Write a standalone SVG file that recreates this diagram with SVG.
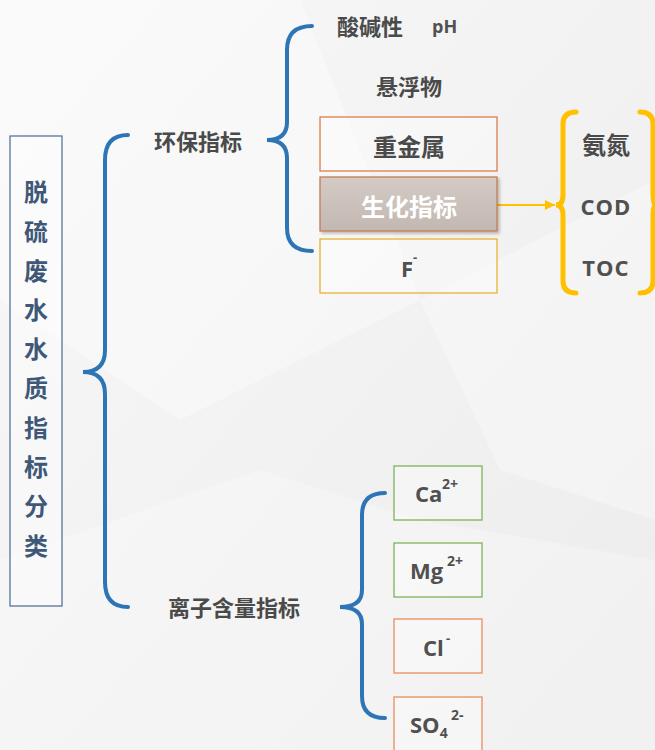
<svg xmlns="http://www.w3.org/2000/svg" width="655" height="750" viewBox="0 0 655 750">
<defs>
<linearGradient id="bg" x1="0" y1="0" x2="1" y2="1">
<stop offset="0" stop-color="#f8f8f8"/>
<stop offset="1" stop-color="#ececec"/>
</linearGradient>
<linearGradient id="bio" x1="0" y1="0" x2="0" y2="1">
<stop offset="0" stop-color="#d3cbc5"/>
<stop offset="1" stop-color="#c3b8b1"/>
</linearGradient>
<filter id="sh" x="-10%" y="-20%" width="125%" height="150%">
<feDropShadow dx="2" dy="2" stdDeviation="1.5" flood-color="#000" flood-opacity="0.25"/>
</filter>
<marker id="arr" viewBox="0 0 10 10" refX="10" refY="5" markerWidth="10" markerHeight="10" markerUnits="userSpaceOnUse" orient="auto">
<path d="M0,0 L10,5 L0,10 z" fill="#ffc000"/>
</marker>
<style>
.t{font-family:"Open Sans","Noto Sans CJK SC",sans-serif;font-weight:bold;fill:#505050;dominant-baseline:central;text-anchor:middle}
.cj{font-family:"Noto Sans CJK SC",sans-serif;font-weight:bold;fill:#4a4a4a;dominant-baseline:central;text-anchor:middle}
.lat{font-family:"Open Sans",sans-serif;font-weight:bold;fill:#505050}
.bb{fill:none;stroke:#2e75b6;stroke-width:4;stroke-linecap:round}
.yb{fill:none;stroke:#ffc000;stroke-width:5;stroke-linecap:round}
.box{fill:#ffffff;fill-opacity:0.35;stroke-width:1.3}
</style>
</defs>
<rect width="655" height="750" fill="url(#bg)"/>
<polygon points="0,0 300,0 420,300 180,420 0,300" fill="#ffffff" opacity="0.35"/>
<polygon points="420,300 655,180 655,520 500,470" fill="#ffffff" opacity="0.3"/>
<polygon points="0,560 260,470 420,520 655,560 655,750 0,750" fill="#ffffff" opacity="0.25"/>

<g id="root">
<rect x="10" y="136" width="52" height="470" fill="#ffffff" fill-opacity="0.4" stroke="#4a6a95" stroke-width="1.2"/>
<g style="font-family:'Noto Sans CJK SC',sans-serif;font-weight:bold;font-size:24px;fill:#3f5878;text-anchor:middle;dominant-baseline:central">
<text x="36" y="190">脱</text>
<text x="36" y="230">硫</text>
<text x="36" y="269">废</text>
<text x="36" y="308">水</text>
<text x="36" y="347">水</text>
<text x="36" y="386">质</text>
<text x="36" y="426">指</text>
<text x="36" y="465">标</text>
<text x="36" y="504">分</text>
<text x="36" y="544">类</text>
</g>
</g>

<g id="connectors">
<path class="bb" d="M128,135 Q105,135 105,160 L105,350 Q105,372 83,372 Q105,372 105,394 L105,582 Q105,607 128,607"/>
<path class="bb" d="M312,26 Q287,26 287,50 L287,122 Q287,140 267,140 Q287,140 287,158 L287,228 Q287,251 312,251"/>
<path class="bb" d="M385,493 Q362,493 362,515 L362,590 Q362,607 340,607 Q362,607 362,624 L362,696 Q362,718 385,718"/>
<path class="yb" d="M576,112 Q563,112 563,124 L563,195 Q563,205 556,205 Q563,205 563,215 L563,281 Q563,293 576,293"/>
<path class="yb" d="M640,112 Q653,112 653,124 L653,195 Q653,205 656,205 Q653,205 653,215 L653,281 Q653,293 640,293"/>
<line x1="497" y1="205" x2="555" y2="205" stroke="#ffc000" stroke-width="1.8" marker-end="url(#arr)"/>
</g>

<g id="env">
<text class="cj" x="198" y="140" font-size="22">环保指标</text>
</g>
<g id="ion">
<text class="cj" x="234" y="606" font-size="22">离子含量指标</text>
</g>

<g id="ph">
<text class="cj" x="370" y="25" font-size="22">酸碱性</text>
<text class="lat" x="432" y="33" font-size="18">pH</text>
</g>
<g id="ss">
<text class="cj" x="409" y="85" font-size="22">悬浮物</text>
</g>
<g id="heavy">
<rect class="box" x="320" y="117" width="177" height="54" stroke="#d9804a"/>
<text class="cj" x="409" y="145" font-size="24">重金属</text>
</g>
<g id="bio">
<rect x="320" y="177" width="177" height="54" fill="url(#bio)" stroke="#c47c50" stroke-width="1.3" filter="url(#sh)"/>
<text class="cj" x="409" y="205" font-size="24" style="fill:#ffffff">生化指标</text>
</g>
<g id="f">
<rect class="box" x="320" y="239" width="177" height="54" stroke="#e8b22e"/>
<text class="lat" x="401" y="277" font-size="22">F</text>
<text class="lat" x="413" y="262" font-size="13">-</text>
</g>

<g id="nh3">
<text class="cj" x="606" y="143" font-size="24">氨氮</text>
</g>
<g id="cod">
<text class="t" x="606" y="206" font-size="22" letter-spacing="1">COD</text>
</g>
<g id="toc">
<text class="t" x="606" y="267" font-size="22" letter-spacing="1">TOC</text>
</g>

<g id="ca">
<rect class="box" x="394" y="466" width="88" height="54" stroke="#7cb35a"/>
<text class="lat" x="415" y="502" font-size="22">Ca</text>
<text class="lat" x="442" y="489" font-size="14">2+</text>
</g>
<g id="mg">
<rect class="box" x="394" y="543" width="88" height="54" stroke="#7cb35a"/>
<text class="lat" x="410" y="579" font-size="22">Mg</text>
<text class="lat" x="447" y="566" font-size="14">2+</text>
</g>
<g id="cl">
<rect class="box" x="394" y="619" width="88" height="54" stroke="#e8905a"/>
<text class="lat" x="423" y="656" font-size="22">Cl</text>
<text class="lat" x="446" y="643" font-size="13">-</text>
</g>
<g id="so4">
<rect class="box" x="394" y="697" width="88" height="60" stroke="#e8905a"/>
<text class="lat" x="410" y="733" font-size="22">SO<tspan font-size="14" dy="5">4</tspan></text>
<text class="lat" x="451" y="720" font-size="14">2-</text>
</g>
</svg>
